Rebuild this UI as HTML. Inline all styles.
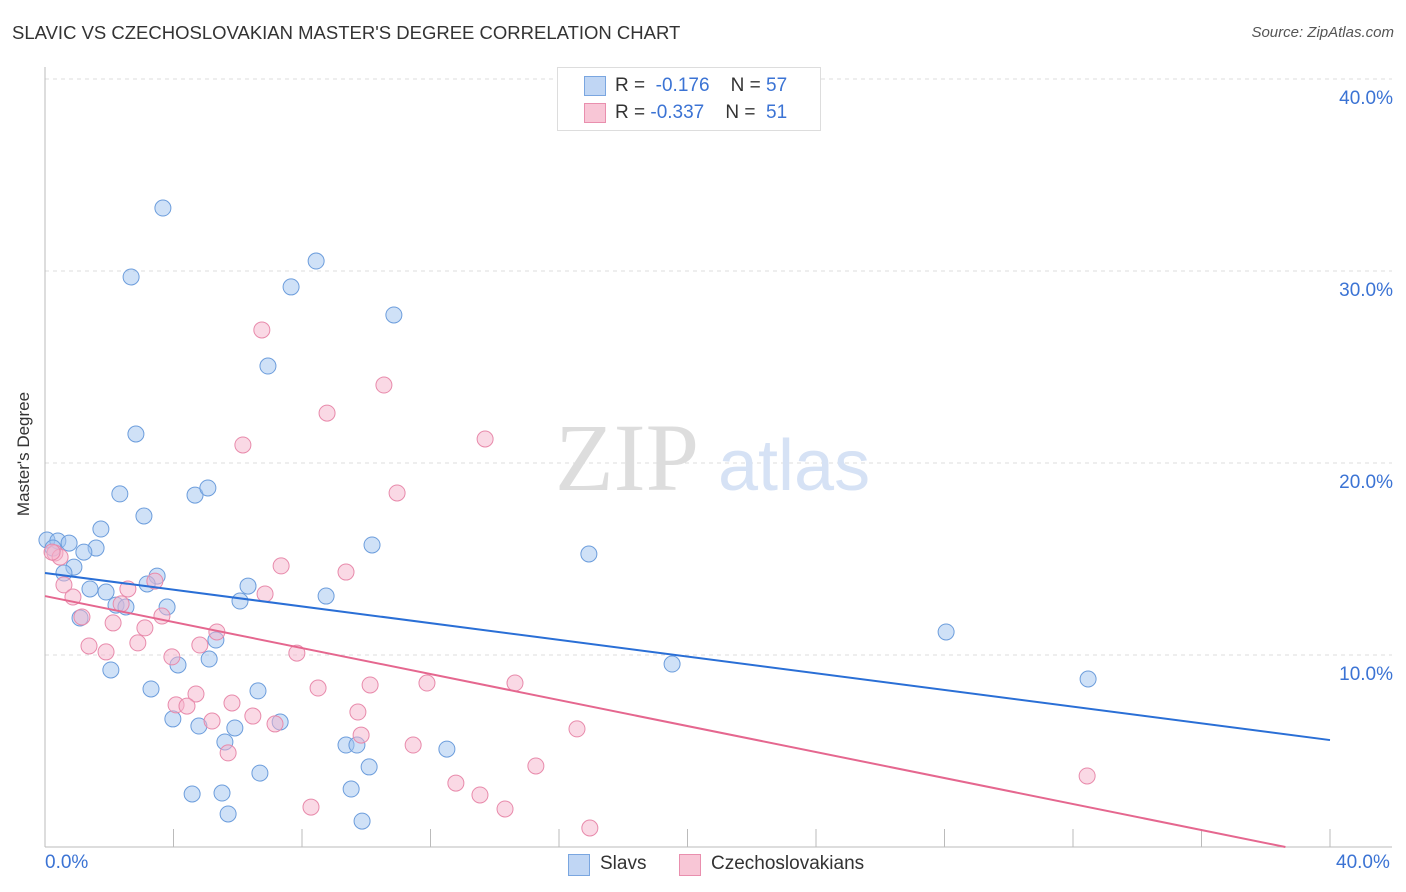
<!DOCTYPE html>
<html><head><meta charset="utf-8">
<style>
body{margin:0;background:#fff;font-family:"Liberation Sans",sans-serif;}
#wrap{position:relative;width:1406px;height:892px;overflow:hidden;}
.t{position:absolute;white-space:nowrap;}
</style></head>
<body>
<div id="wrap">
<div class="t" style="left:12px;top:22px;font-size:18.5px;color:#333;">SLAVIC VS CZECHOSLOVAKIAN MASTER'S DEGREE CORRELATION CHART</div>
<div class="t" style="right:12px;top:24px;font-size:15px;color:#555;font-style:italic;">Source: ZipAtlas.com</div>
<svg id="svg" width="1406" height="892" style="position:absolute;left:0;top:0"></svg>
</div>
<script>
const blueX=[163,131,316,291,394,268,136,120,195,208,144,101,47,58,53,69,96,84,372,589,74,64,157,147,248,90,106,240,326,116,126,167,80,216,946,209,178,672,111,1088,151,258,173,199,235,280,225,346,357,447,369,260,351,192,222,228,362].map(p=>+((p-45)/32.125).toFixed(2));
const blueY=[208,277,261,287,315,366,434,494,495,488,516,529,540,541,548,543,548,552,545,554,567,573,576,584,586,589,592,601,596,605,607,607,618,640,632,659,665,664,670,679,689,691,719,726,728,722,742,745,745,749,767,773,789,794,793,814,821].map(p=>+((847-p)/19.2).toFixed(2));
const pinkX=[262,384,327,485,243,397,55,60,281,346,64,128,73,265,155,121,82,162,113,145,217,200,138,89,106,297,172,318,370,427,515,196,176,187,232,253,212,358,275,577,361,228,413,536,456,480,311,505,590,1087,52].map(p=>+((p-45)/32.125).toFixed(2));
const pinkY=[330,385,413,439,445,493,553,557,566,572,585,589,597,594,581,604,617,616,623,628,632,645,643,646,652,653,657,688,685,683,683,694,705,706,703,716,721,712,724,729,735,753,745,766,783,795,807,809,828,776,552].map(p=>+((847-p)/19.2).toFixed(2));
const blueTrend=[14.27,5.57];
const pinkTrend=[13.07,-0.47];
const yTicks=[10,20,30,40];
const yTickLabels=["10.0%","20.0%","30.0%","40.0%"];
const xTicks=[4,8,12,16,20,24,28,32,36,40];

const svg=document.getElementById('svg');
const NS="http://www.w3.org/2000/svg";
const sx=v=>45+v*32.125, sy=v=>847-v*19.2;
function mk(tag,attrs,parent){const e=document.createElementNS(NS,tag);for(const k in attrs)e.setAttribute(k,attrs[k]);(parent||svg).appendChild(e);return e;}

yTicks.forEach((v,i)=>{
  const g=mk('line',{x1:45,x2:1392,y1:sy(v),y2:sy(v),stroke:'#ddd','stroke-dasharray':'4,4'});
  
  
  const t=mk('text',{x:1393,y:sy(v)+25,'text-anchor':'end','font-size':19,fill:'#3b73d4','font-family':'Liberation Sans, sans-serif'});
  t.textContent=yTickLabels[i];
  
  
});
mk('line',{x1:45,x2:45,y1:67,y2:847,stroke:'#bbb'});
mk('line',{x1:45,x2:1392,y1:847,y2:847,stroke:'#bbb'});
xTicks.forEach(v=>{
  const l=mk('line',{x1:sx(v),x2:sx(v),y1:829,y2:847,stroke:'#bbb'});
  
  
});
const w1=mk('text',{x:555,y:490,'font-size':96,fill:'#ddd','font-family':'Liberation Serif, serif'});w1.textContent='ZIP';


const w2=mk('text',{x:718,y:490,'font-size':72,fill:'#d6e2f5','font-family':'Liberation Sans, sans-serif'});w2.textContent='atlas';



blueX.forEach((x,i)=>{
  const c=mk('circle',{cx:sx(x),cy:sy(blueY[i]),r:8,fill:'rgba(160,196,240,0.5)',stroke:'#6c9ddc','stroke-width':1});
  
  
});
pinkX.forEach((x,i)=>{
  const c=mk('circle',{cx:sx(x),cy:sy(pinkY[i]),r:8,fill:'rgba(245,180,203,0.5)',stroke:'#e88aab','stroke-width':1});
  
  
});
const bl=mk('line',{x1:sx(0),y1:sy(blueTrend[0]),x2:sx(40),y2:sy(blueTrend[1]),stroke:'#2a6fd6','stroke-width':2});


const pe=pinkTrend[0]/(pinkTrend[0]-pinkTrend[1])*40;
const pl=mk('line',{x1:sx(0),y1:sy(pinkTrend[0]),x2:sx(pe),y2:sy(0),stroke:'#e5678f','stroke-width':2});


</script>
<div class="t" style="left:45px;top:852px;font-size:19px;color:#3b73d4;">0.0%</div>
<div class="t" style="left:1336px;top:852px;font-size:19px;color:#3b73d4;">40.0%</div>
<div class="t" style="left:-38px;top:444px;font-size:17px;color:#333;transform:rotate(-90deg);">Master's Degree</div>
<div style="position:absolute;left:557px;top:67px;width:262px;height:62px;border:1px solid #ddd;background:#fff;font-size:19px;">
 <div style="position:absolute;left:26px;top:8px;width:20px;height:18px;background:#c0d6f4;border:1px solid #7aa6e0"></div>
 <div class="t" style="left:57px;top:7px;color:#333">R = <span style="color:#3b73d4">&nbsp;-0.176</span>&nbsp;&nbsp;&nbsp;&nbsp;N = <span style="color:#3b73d4">57</span></div>
 <div style="position:absolute;left:26px;top:35px;width:20px;height:18px;background:#f8c6d6;border:1px solid #e98fae"></div>
 <div class="t" style="left:57px;top:34px;color:#333">R = <span style="color:#3b73d4">-0.337</span>&nbsp;&nbsp;&nbsp;&nbsp;N = <span style="color:#3b73d4">&nbsp;51</span></div>
</div>
<div style="position:absolute;left:568px;top:854px;width:20px;height:20px;background:#c0d6f4;border:1px solid #7aa6e0"></div>
<div class="t" style="left:600px;top:853px;font-size:19px;color:#333">Slavs</div>
<div style="position:absolute;left:679px;top:854px;width:20px;height:20px;background:#f8c6d6;border:1px solid #e98fae"></div>
<div class="t" style="left:711px;top:853px;font-size:19px;color:#333">Czechoslovakians</div>
</body></html>
